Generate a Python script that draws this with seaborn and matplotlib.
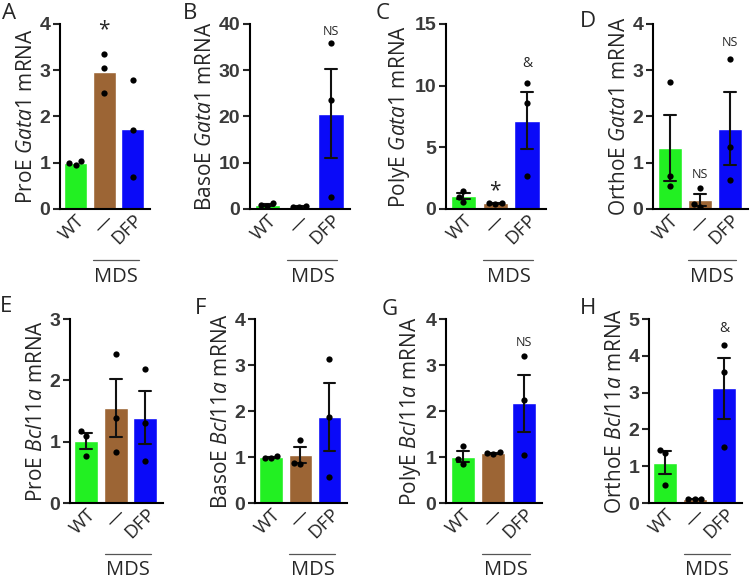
import numpy as np
import pandas as pd
import seaborn as sns
import matplotlib.pyplot as plt
import matplotlib.transforms as mtransforms

# groups: wild type, MDS untreated, MDS + DFP
groups = ["WT", "MDS", "DFP"]
tick_labels = ["WT", "\u2014", "DFP"]
colors = ["#22F022", "#9C6535", "#0A0AF8"]

# three replicates per group
proe_gata1 = [[1.03, 0.96, 1.00], [3.35, 3.05, 2.50], [2.80, 1.70, 0.70]]
basoe_gata1 = [[1.30, 0.80, 0.70], [0.60, 0.50, 0.40], [35.8, 23.5, 2.6]]
polye_gata1 = [[1.45, 1.00, 0.60], [0.50, 0.45, 0.40], [10.2, 8.6, 2.7]]
orthoe_gata1 = [[2.75, 0.72, 0.50], [0.45, 0.10, 0.05], [3.25, 1.33, 0.63]]
proe_bcl11a = [[1.17, 1.10, 0.76], [2.43, 1.38, 0.83], [2.19, 1.31, 0.68]]
basoe_bcl11a = [[1.02, 0.98, 0.97], [1.38, 0.87, 0.85], [3.13, 1.88, 0.57]]
polye_bcl11a = [[1.23, 0.95, 0.85], [1.10, 1.08, 1.07], [3.20, 2.25, 1.05]]
orthoe_bcl11a = [[1.45, 1.35, 0.50], [0.10, 0.10, 0.10], [4.28, 3.55, 1.52]]

sns.set_style("ticks")
plt.rcParams['font.family'] = ['Open Sans', 'DejaVu Sans']
plt.rcParams['mathtext.fontset'] = 'custom'
plt.rcParams['mathtext.it'] = 'Open Sans:italic'
plt.rcParams['mathtext.rm'] = 'Open Sans'

W, H = 751, 583
fig = plt.figure(figsize=(W / 100, H / 100), dpi=100)

# letter, stage, gene, data, yticks, errorbars?, annotations (group idx, y, text, size)
panels = [
    ("A", "ProE", "Gata1", proe_gata1, [0, 1, 2, 3, 4], False, [(1, 3.87, "*", 15)]),
    ("B", "BasoE", "Gata1", basoe_gata1, [0, 10, 20, 30, 40], True, [(2, 38.3, "NS", 9)]),
    ("C", "PolyE", "Gata1", polye_gata1, [0, 5, 10, 15], True,
     [(1, 1.5, "*", 15), (2, 11.8, "&", 10)]),
    ("D", "OrthoE", "Gata1", orthoe_gata1, [0, 1, 2, 3, 4], True,
     [(1, 0.74, "NS", 9), (2, 3.59, "NS", 9)]),
    ("E", "ProE", "Bcl11a", proe_bcl11a, [0, 1, 2, 3], True, []),
    ("F", "BasoE", "Bcl11a", basoe_bcl11a, [0, 1, 2, 3, 4], True, []),
    ("G", "PolyE", "Bcl11a", polye_bcl11a, [0, 1, 2, 3, 4], True, [(2, 3.5, "NS", 9)]),
    ("H", "OrthoE", "Bcl11a", orthoe_bcl11a, [0, 1, 2, 3, 4, 5], True, [(2, 4.73, "&", 10)]),
]

# axes boxes in pixels (left, right, top, bottom) and panel letter spots
boxes = [(60, 150, 24, 209), (250, 350, 24, 209), (446, 546, 24, 209), (653, 748, 24, 209),
         (70, 163, 319, 503), (255, 347, 319, 503), (446, 542, 319, 503), (649, 742, 319, 503)]
letter_xy = [(2, 3), (183, 3), (376, 3), (580, 11), (0, 296), (195, 298), (382, 299), (580, 298)]

for (letter, stage, gene, vals, yt, show_err, notes), (l, r, t, b), (lx, ly) in zip(panels, boxes, letter_xy):
    ax = fig.add_axes([l / W, 1 - b / H, (r - l) / W, (b - t) / H])
    df = pd.DataFrame({
        "group": np.repeat(groups, 3),
        "value": np.concatenate(vals),
    })
    sns.barplot(data=df, x="group", y="value", hue="group", order=groups, hue_order=groups,
                palette=colors, saturation=1, width=0.8,
                errorbar="se" if show_err else None,
                capsize=0.4, err_kws={"linewidth": 1.5, "color": "#111111"},
                legend=False, ax=ax)
    sns.swarmplot(data=df, x="group", y="value", order=groups, color="black",
                  size=4.5, ax=ax)

    ax.set_xlim(-0.55, 2.6)
    ax.set_ylim(0, yt[-1])
    ax.set_yticks(yt)
    ax.set_yticklabels([str(v) for v in yt], fontfamily="Liberation Sans",
                       fontweight="bold", fontsize=14, color="#3a3a3a")
    ax.set_xticks(range(3))
    ax.set_xticklabels(tick_labels, rotation=45, ha="right", rotation_mode="anchor",
                       fontsize=13.5)
    ax.tick_params(axis="x", length=0, pad=1.5)
    ax.tick_params(axis="y", length=5, width=1.5, pad=2)
    ax.set_xlabel("")
    ax.set_ylabel(stage + r" $\it{" + gene + "}$ mRNA", fontsize=15, labelpad=2)
    for s in ["top", "right"]:
        ax.spines[s].set_visible(False)
    for s in ["left", "bottom"]:
        ax.spines[s].set_linewidth(1.5)
        ax.spines[s].set_color("black")

    for gi, yv, txt, fs in notes:
        ax.text(gi, yv, txt, ha="center", va="center", fontsize=fs)

    # MDS bracket under the two MDS groups
    trans = mtransforms.blended_transform_factory(ax.transData, ax.transAxes)
    ax.plot([0.62, 2.2], [-0.277, -0.277], color="#555555", linewidth=0.9,
            transform=trans, clip_on=False)
    ax.text(1.42, -0.365, "MDS", ha="center", va="center", fontsize=14.5,
            transform=trans)

    fig.text(lx / W, 1 - ly / H, letter, ha="left", va="top", fontsize=16)

fig.savefig("out.png", dpi=100)
